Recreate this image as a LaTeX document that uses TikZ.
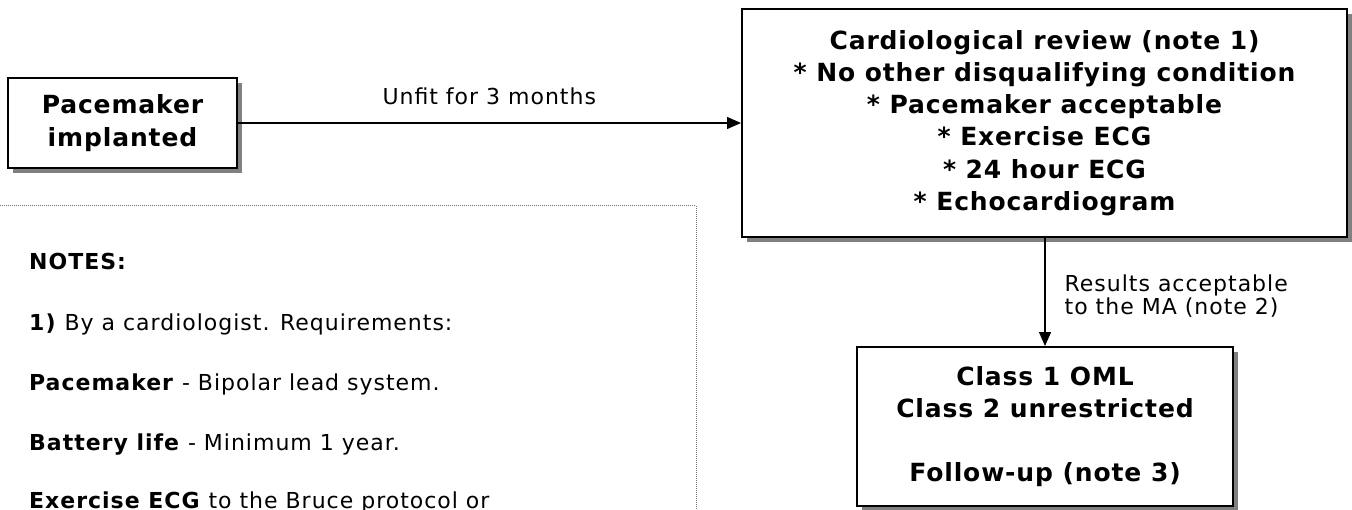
\documentclass[tikz,border=0pt]{standalone}
\usepackage{fontspec}
\setmainfont{DejaVu Sans}
\newfontfamily\boxfont[LetterSpace=3.5]{DejaVu Sans}
\newfontfamily\labelfont[LetterSpace=4.5]{DejaVu Sans}
\usetikzlibrary{arrows.meta,shadows}

\tikzset{
  flowbox/.style={draw, line width=2bp, fill=white, align=center, inner sep=0pt,
    font=\boxfont\bfseries\fontsize{25bp}{32.3bp}\selectfont,
    drop shadow={shadow xshift=5bp, shadow yshift=-5bp, fill=black!50, opacity=1}},
  conn/.style={line width=1.3bp, -{Triangle[length=14bp,width=12bp]}},
  edgelabel/.style={font=\labelfont\fontsize{22bp}{20bp}\selectfont, inner sep=0pt, align=left},
  noteline/.style={font=\labelfont\fontsize{22bp}{24bp}\selectfont, inner sep=0pt, anchor=base west},
  notesframe/.style={draw=black!55, line width=1bp, dash pattern=on 1bp off 1bp}
}

\begin{document}
\begin{tikzpicture}[x=1bp, y=-1bp]
  \useasboundingbox (0,0) rectangle (1352,510);
  \clip (0,0) rectangle (1352,510);

  % notes panel, open towards the left and bottom
  \draw[notesframe] (-10,205.5) rectangle (696,560);
  \node[noteline] (n0) at (29,270) {\textbf{NOTES:}};
  \node[noteline] (n1) at (29,330) {\textbf{1)} By a cardiologist. Requirements:};
  \node[noteline] (n2) at (29,390) {\textbf{Pacemaker} - Bipolar lead system.};
  \node[noteline] (n3) at (29,450) {\textbf{Battery life} - Minimum 1 year.};
  \node[noteline] (n4) at (29,508) {\textbf{Exercise ECG} to the Bruce protocol or};

  % flow boxes
  \node[flowbox, minimum width=228bp, minimum height=90bp] (pm) at (122.5,123)
    {Pacemaker\\implanted};
  \node[flowbox, minimum width=605bp, minimum height=228bp] (cr) at (1044.5,123)
    {Cardiological review (note 1)\\* No other disqualifying condition\\* Pacemaker acceptable\\* Exercise ECG\\* 24 hour ECG\\* Echocardiogram};
  \node[flowbox, minimum width=376bp, minimum height=159bp] (cl) at (1045,426.5)
    {Class 1 OML\\Class 2 unrestricted\\[32bp]Follow-up (note 3)};

  % connectors
  \draw[conn] (pm.east) -- (pm.east -| cr.west)
    node[edgelabel, midway, anchor=south, yshift=18bp] (l1) {Unfit for 3 months};
  \draw[conn] (cl.north |- cr.south) -- (cl.north)
    node[edgelabel, pos=0.5, anchor=west, xshift=19bp, yshift=-4bp] (l2) {Results acceptable\\to the MA (note 2)};
\end{tikzpicture}
\end{document}
